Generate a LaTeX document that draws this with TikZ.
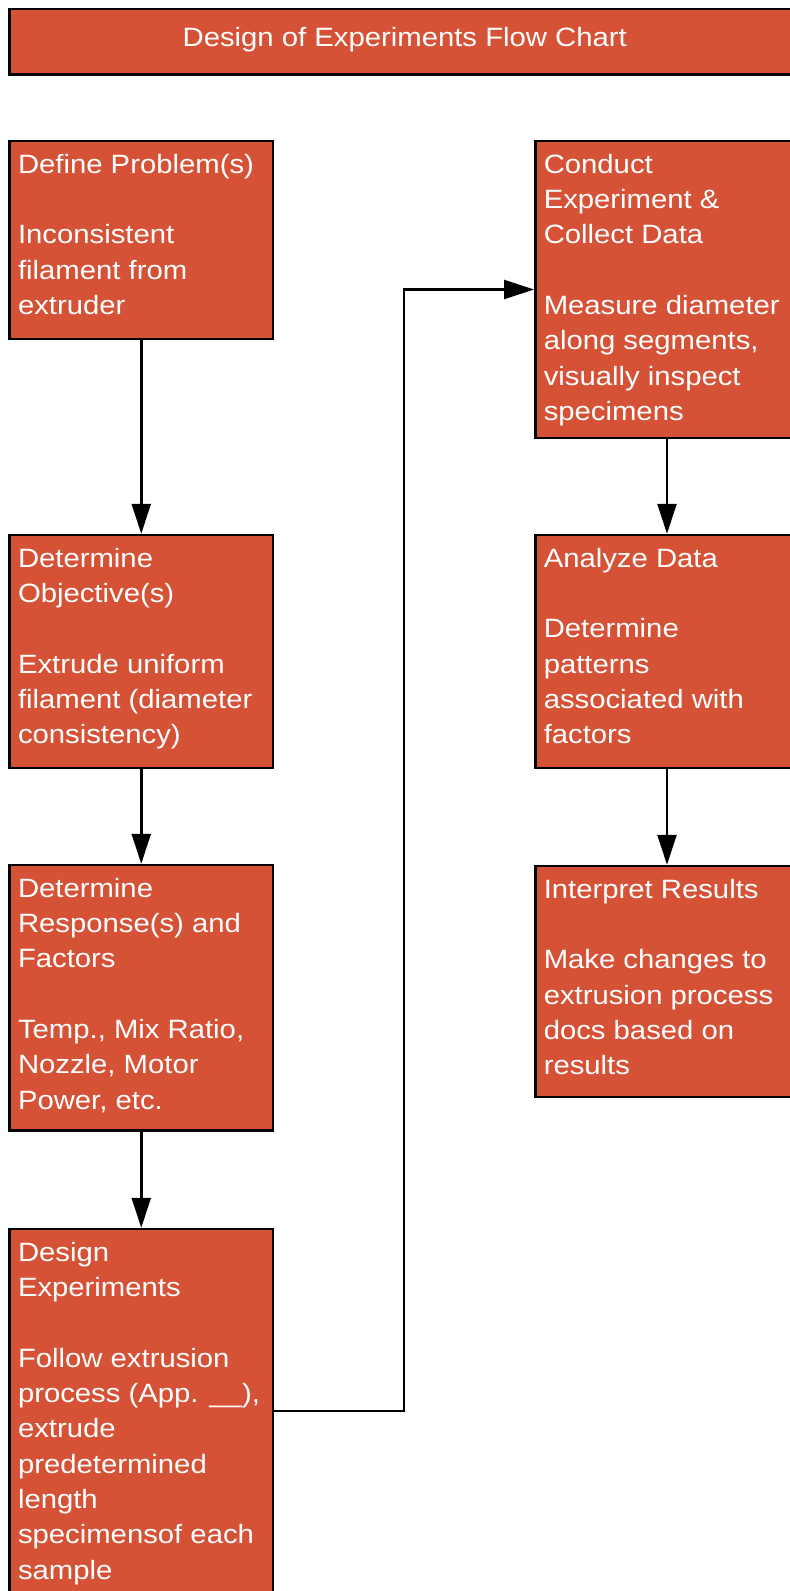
\documentclass[tikz,border=0pt]{standalone}
\usepackage{fontspec}
\setmainfont[FakeStretch=1.105]{Liberation Sans}
\usetikzlibrary{arrows.meta}
\definecolor{boxred}{RGB}{214,82,55}
\newcommand\boxtext[3]{\parbox[c][#2][t]{#1}{\fontsize{26.5}{35.3}\selectfont\leftskip=8.5pt\rightskip=-40pt plus 1fil\parfillskip=0pt plus 1fil\parindent=0pt\rule{0pt}{32.3pt}#3}}
\tikzset{
  blk/.style={draw=black, line width=2.5pt, fill=boxred, text=white, inner sep=0pt, anchor=north west},
  conn/.style={draw=black, line width=2.5pt, -{Triangle[length=30pt,width=19pt]}},
}
\begin{document}
\begin{tikzpicture}[x=1pt,y=-1pt]
\useasboundingbox (0,0) rectangle (790,1591);
\clip (0,0) rectangle (790,1591);
\fill[white] (0,0) rectangle (790,1591);

\node[blk, minimum width=790.5pt, minimum height=65.5pt, text height=20pt, text depth=10pt,
      font=\fontsize{26.5}{32}\selectfont] (title) at (8.25,7.75) {Design of Experiments Flow Chart};

% left column
\node[blk] (def) at (8.25,139.75) {\boxtext{263.5pt}{198pt}{Define Problem(s)\\[35.3pt]Inconsistent\\filament from\\extruder}};
\node[blk] (obj) at (8.25,533.75) {\boxtext{263.5pt}{233pt}{Determine\\Objective(s)\\[35.3pt]Extrude uniform\\filament (diameter\\consistency)}};
\node[blk] (resp) at (8.25,863.75) {\boxtext{263.5pt}{265.5pt}{Determine\\Response(s) and\\Factors\\[35.3pt]Temp., Mix Ratio,\\Nozzle, Motor\\Power, etc.}};
\node[blk] (design) at (8.25,1227.75) {\boxtext{263.5pt}{364pt}{Design\\Experiments\\[35.3pt]Follow extrusion\\process (App. \_\_),\\extrude\\predetermined\\length\\specimensof each\\sample}};

% right column
\node[blk] (conduct) at (534,139.75) {\boxtext{263.5pt}{297pt}{Conduct\\Experiment \&\\Collect Data\\[35.3pt]Measure diameter\\along segments,\\visually inspect\\specimens}};
\node[blk] (analyze) at (534,533.75) {\boxtext{263.5pt}{233pt}{Analyze Data\\[35.3pt]Determine\\patterns\\associated with\\factors}};
\node[blk] (interp) at (534,864.75) {\boxtext{263.5pt}{231pt}{Interpret Results\\[35.3pt]Make changes to\\extrusion process\\docs based on\\results}};

% connectors
\draw[conn] (def.south) -- (obj.north);
\draw[conn] (obj.south) -- (resp.north);
\draw[conn] (resp.south) -- (design.north);
\coordinate (bendx) at (404,0);
\draw[conn] (design.east) -| (bendx |- conduct.west) -- (conduct.west);
\draw[conn] (conduct.south) -- (analyze.north);
\draw[conn] (analyze.south) -- (interp.north);
\end{tikzpicture}
\end{document}
